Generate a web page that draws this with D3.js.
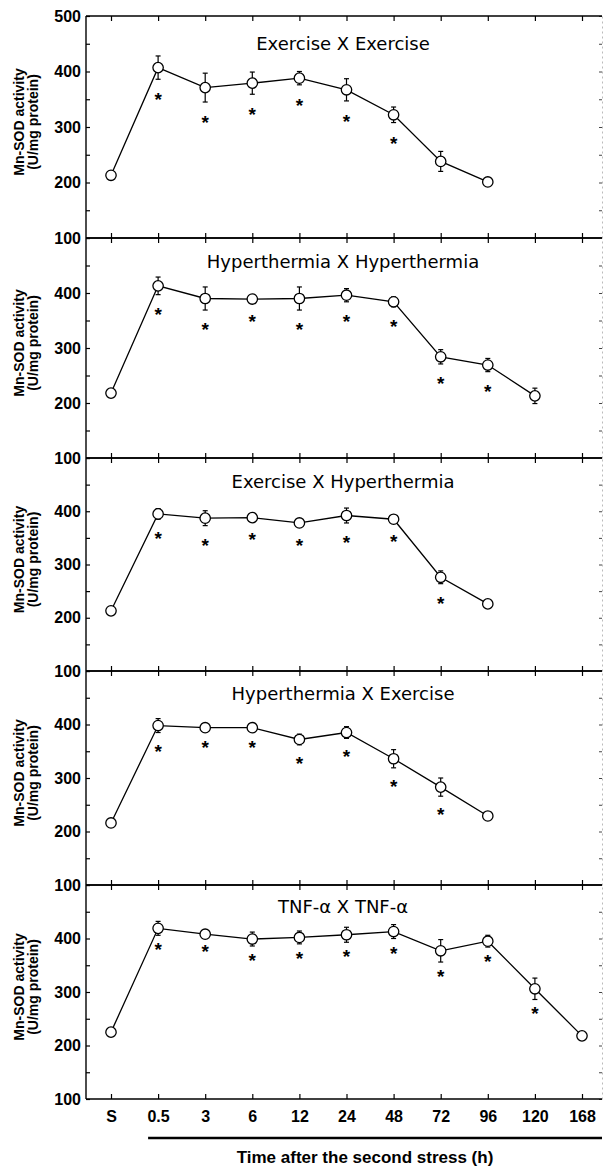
<!DOCTYPE html>
<html>
<head>
<meta charset="utf-8">
<script src="https://cdn.jsdelivr.net/npm/d3@7"></script>
<style>
body { margin: 0; background: #fff; }
</style>
</head>
<body>
<div id="chart"></div>
<script>
// time points (x categories)
var categories = ["S", "0.5", "3", "6", "12", "24", "48", "72", "96", "120", "168"];

// panel titles
var panelTitles = ["Exercise X Exercise", "Hyperthermia X Hyperthermia",
                   "Exercise X Hyperthermia", "Hyperthermia X Exercise", "TNF-\u03b1 X TNF-\u03b1"];

// Mn-SOD activity (U/mg protein), mean, SE and significance (*) per panel
var exExMean = [213, 407, 371, 379, 388, 367, 322, 238, 201];
var exExSE   = [4, 21, 26, 20, 12, 20, 14, 18, 3];
var exExSig  = [0, 1, 1, 1, 1, 1, 1, 0, 0];

var hyHyMean = [218, 413, 390, 389, 390, 396, 384, 284, 269, 213];
var hyHySE   = [5, 16, 21, 6, 21, 12, 9, 13, 12, 14];
var hyHySig  = [0, 1, 1, 1, 1, 1, 1, 1, 1, 0];

var exHyMean = [213, 395, 387, 388, 378, 392, 385, 276, 226];
var exHySE   = [3, 10, 14, 5, 6, 14, 5, 12, 4];
var exHySig  = [0, 1, 1, 1, 1, 1, 1, 1, 0];

var hyExMean = [216, 398, 394, 394, 372, 385, 336, 283, 229];
var hyExSE   = [7, 13, 3, 3, 10, 11, 17, 17, 3];
var hyExSig  = [0, 1, 1, 1, 1, 1, 1, 1, 0];

var tnfMean = [225, 419, 408, 399, 402, 407, 413, 377, 395, 306, 218];
var tnfSE   = [3, 13, 5, 13, 12, 14, 13, 21, 11, 20, 6];
var tnfSig  = [0, 1, 1, 1, 1, 1, 1, 1, 1, 1, 0];

// y axis ticks (labelled every 100, unlabelled every 50)
var yTicks = [100, 150, 200, 250, 300, 350, 400, 450, 500];

function init(){
    var w = 603;
    var h = 1168;
    var left = 86;
    var right = 602;
    // panel edges, top to bottom
    var edges = [16, 238, 458, 671, 885, 1099];
    var titleOffset = [34, 30, 30, 29, 28];
    var starOffset = [16, 15, 15, 14, 10];

    var panels = [
        {title: panelTitles[0], mean: exExMean, se: exExSE, sig: exExSig},
        {title: panelTitles[1], mean: hyHyMean, se: hyHySE, sig: hyHySig},
        {title: panelTitles[2], mean: exHyMean, se: exHySE, sig: exHySig},
        {title: panelTitles[3], mean: hyExMean, se: hyExSE, sig: hyExSig},
        {title: panelTitles[4], mean: tnfMean, se: tnfSE, sig: tnfSig}
    ];

    var xScale = d3.scalePoint()
                    .domain(categories)
                    .range([111, 582]);

    var svg = d3.select('#chart')
                .append('svg')
                .attr('width', w)
                .attr('height', h);

    panels.forEach(function(p, i){
        var top = edges[i];
        var bottom = edges[i + 1];

        var yScale = d3.scaleLinear()
                        .domain([100, 500])
                        .range([bottom, top]);

        var g = svg.append('g');

        // left axis, ticks pointing in
        var yAxis = d3.axisLeft(yScale)
                        .tickValues(yTicks)
                        .tickSizeInner(-4)
                        .tickSizeOuter(0)
                        .tickPadding(5)
                        .tickFormat(function(d){
                            if (d % 100 !== 0) return "";
                            if (i > 0 && d === 500) return "";
                            return d;
                        });
        var ya = g.append('g')
            .attr('transform', 'translate(' + left + ',0)')
            .call(yAxis);
        ya.select('.domain').remove();
        ya.selectAll('line').attr('stroke', '#000').attr('stroke-width', 1.2);
        ya.selectAll('text')
            .attr('font-family', 'Liberation Sans, Arial, sans-serif')
            .attr('font-weight', 'bold')
            .attr('font-size', 16)
            .attr('fill', '#000');

        // right axis, faint
        var ra = g.append('g')
            .attr('transform', 'translate(' + right + ',0)')
            .call(d3.axisRight(yScale).tickValues(yTicks).tickSizeInner(-3).tickSizeOuter(0).tickFormat(""));
        ra.select('.domain').attr('stroke', '#bbb').attr('stroke-dasharray', '2,3');
        ra.selectAll('line').attr('stroke', '#444');

        // x ticks on top and bottom of panel
        var ta = g.append('g')
            .attr('transform', 'translate(0,' + top + ')')
            .call(d3.axisBottom(xScale).tickSize(5).tickFormat(""));
        ta.select('.domain').remove();
        ta.selectAll('line').attr('stroke', '#000').attr('stroke-width', 1.2);

        if (i < panels.length - 1) {
            var ba = g.append('g')
                .attr('transform', 'translate(0,' + bottom + ')')
                .call(d3.axisTop(xScale).tickSize(5).tickFormat(""));
            ba.select('.domain').remove();
            ba.selectAll('line').attr('stroke', '#000').attr('stroke-width', 1.2);
        } else {
            var xa = g.append('g')
                .attr('transform', 'translate(0,' + bottom + ')')
                .call(d3.axisBottom(xScale).tickSizeInner(-5).tickSizeOuter(0).tickPadding(12));
            xa.select('.domain').remove();
            xa.selectAll('line').attr('stroke', '#000').attr('stroke-width', 1.2);
            xa.selectAll('text')
                .attr('font-family', 'Liberation Sans, Arial, sans-serif')
                .attr('font-weight', 'bold')
                .attr('font-size', 16)
                .attr('fill', '#000');
        }

        // frame lines
        g.append('line')
            .attr('x1', left).attr('x2', right)
            .attr('y1', top).attr('y2', top)
            .attr('stroke', '#000').attr('stroke-width', 1.6);
        g.append('line')
            .attr('x1', left).attr('x2', right)
            .attr('y1', bottom).attr('y2', bottom)
            .attr('stroke', '#000').attr('stroke-width', 1.6);
        g.append('line')
            .attr('x1', left).attr('x2', left)
            .attr('y1', top).attr('y2', bottom)
            .attr('stroke', '#000').attr('stroke-width', 1.4);

        // y axis title
        var yt = g.append('g')
            .attr('transform', 'translate(0,' + ((top + bottom) / 2 - 5) + ') rotate(-90)')
            .attr('font-family', 'Liberation Sans, Arial, sans-serif')
            .attr('font-weight', 'bold')
            .attr('font-size', 14)
            .attr('text-anchor', 'middle');
        yt.append('text').attr('x', 0).attr('y', 24).text('Mn-SOD activity');
        yt.append('text').attr('x', 0).attr('y', 38).text('(U/mg protein)');

        // panel title
        g.append('text')
            .attr('x', 343)
            .attr('y', top + titleOffset[i])
            .attr('text-anchor', 'middle')
            .attr('font-family', 'DejaVu Sans, sans-serif')
            .attr('font-size', 18)
            .text(p.title);

        var pts = p.mean.map(function(m, k){
            return {cat: categories[k], v: m, se: p.se[k], sig: p.sig[k]};
        });

        // connecting line
        var line = d3.line()
                    .x(function(d){ return xScale(d.cat); })
                    .y(function(d){ return yScale(d.v); });
        g.append('path')
            .datum(pts)
            .attr('d', line)
            .attr('fill', 'none')
            .attr('stroke', '#000')
            .attr('stroke-width', 1.3);

        // error bars
        var eb = g.selectAll('.err')
            .data(pts)
            .enter()
            .append('g')
            .attr('stroke', '#000')
            .attr('stroke-width', 1.2);
        eb.append('line')
            .attr('x1', function(d){ return xScale(d.cat); })
            .attr('x2', function(d){ return xScale(d.cat); })
            .attr('y1', function(d){ return yScale(d.v + d.se); })
            .attr('y2', function(d){ return yScale(d.v - d.se); });
        eb.append('line')
            .attr('x1', function(d){ return xScale(d.cat) - 2.5; })
            .attr('x2', function(d){ return xScale(d.cat) + 2.5; })
            .attr('y1', function(d){ return yScale(d.v + d.se); })
            .attr('y2', function(d){ return yScale(d.v + d.se); });
        eb.append('line')
            .attr('x1', function(d){ return xScale(d.cat) - 2.5; })
            .attr('x2', function(d){ return xScale(d.cat) + 2.5; })
            .attr('y1', function(d){ return yScale(d.v - d.se); })
            .attr('y2', function(d){ return yScale(d.v - d.se); });

        // open circles
        g.selectAll('circle')
            .data(pts)
            .enter()
            .append('circle')
            .attr('cx', function(d){ return xScale(d.cat); })
            .attr('cy', function(d){ return yScale(d.v); })
            .attr('r', 5.2)
            .attr('fill', '#fff')
            .attr('stroke', '#000')
            .attr('stroke-width', 1.3);

        // significance asterisks
        g.selectAll('.star')
            .data(pts.filter(function(d){ return d.sig; }))
            .enter()
            .append('text')
            .attr('class', 'star')
            .attr('x', function(d){ return xScale(d.cat); })
            .attr('y', function(d){ return yScale(d.v - d.se) + starOffset[i] + 11; })
            .attr('text-anchor', 'middle')
            .attr('font-family', 'Liberation Sans, Arial, sans-serif')
            .attr('font-weight', 'bold')
            .attr('font-size', 19)
            .text('*');
    });

    // bar under the post-stress time points
    svg.append('line')
        .attr('x1', xScale("0.5") - 10)
        .attr('x2', right)
        .attr('y1', 1138)
        .attr('y2', 1138)
        .attr('stroke', '#000')
        .attr('stroke-width', 2.5);

    // x axis title
    svg.append('text')
        .attr('x', 365)
        .attr('y', 1163)
        .attr('text-anchor', 'middle')
        .attr('font-family', 'Liberation Sans, Arial, sans-serif')
        .attr('font-weight', 'bold')
        .attr('font-size', 17)
        .text('Time after the second stress (h)');
}

window.onload = init;
</script>
</body>
</html>
